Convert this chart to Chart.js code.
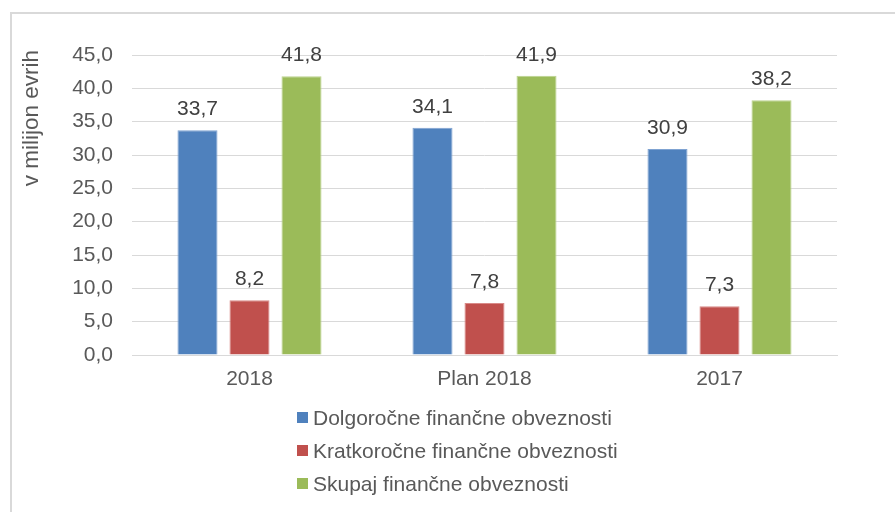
<!DOCTYPE html>
<html>
<head>
<meta charset="utf-8">
<script src="https://cdn.jsdelivr.net/npm/chart.js@4/dist/chart.umd.min.js"></script>
<style>
    html, body { margin: 0; padding: 0; background: #fff; overflow: hidden; }
    #wrap { position: relative; width: 895px; height: 512px; overflow: hidden; }
    #frame { position: absolute; left: 10px; top: 12px; width: 900px; height: 600px;
             border: 2px solid #d9d9d9; box-sizing: border-box; }
    #chart { position: absolute; left: 0; top: 0; }
    #legend { position: absolute; left: 297px; top: 401px;
              font-family: "Liberation Sans", Arial, sans-serif; font-size: 21px; color: #595959; }
    #legend .item { display: flex; align-items: center; height: 33px; }
    #legend .box { width: 11px; height: 11px; margin-right: 5px; }
</style>
</head>
<body>
<div id="wrap">
    <div id="frame"></div>
    <canvas id="chart" width="895" height="512"></canvas>
    <div id="legend"></div>
</div>
<script>
const FONT = '"Liberation Sans", Arial, sans-serif';

const categories = ['2018', 'Plan 2018', '2017'];
const dolgorocne = [33.7, 34.1, 30.9];
const kratkorocne = [8.2, 7.8, 7.3];
const skupaj = [41.8, 41.9, 38.2];
const seriesNames = ['Dolgoročne finančne obveznosti', 'Kratkoročne finančne obveznosti', 'Skupaj finančne obveznosti'];
const seriesColors = ['#4f81bd', '#c0504d', '#9bbb59'];
const edgeColors = ['#7fa3d2', '#d98a88', '#bcd38f'];
const yTitle = 'v milijon evrih';

function fmt(v) {
    return v.toFixed(1).replace('.', ',');
}

// value labels above the bars
const valueLabels = {
    id: 'valueLabels',
    afterDatasetsDraw(chart) {
        const ctx = chart.ctx;
        ctx.save();
        ctx.font = '21px ' + FONT;
        ctx.fillStyle = '#404040';
        ctx.textAlign = 'center';
        ctx.textBaseline = 'alphabetic';
        chart.data.datasets.forEach((ds, i) => {
            chart.getDatasetMeta(i).data.forEach((bar, j) => {
                ctx.fillText(fmt(ds.data[j]), bar.x, bar.y - 15);
            });
        });
        ctx.restore();
    }
};

// rotated axis title, ending near the top of the value axis
const axisTitle = {
    id: 'axisTitle',
    afterDraw(chart) {
        const ctx = chart.ctx;
        const y = chart.scales.y;
        ctx.save();
        ctx.font = '22.5px ' + FONT;
        ctx.fillStyle = '#595959';
        ctx.translate(y.left + 22, y.top - 5);
        ctx.rotate(-Math.PI / 2);
        ctx.textAlign = 'right';
        ctx.textBaseline = 'middle';
        ctx.fillText(yTitle, 0, 0);
        ctx.restore();
    }
};

// legend as a vertical list under the plot
const htmlLegend = {
    id: 'htmlLegend',
    afterUpdate(chart) {
        const box = document.getElementById('legend');
        box.innerHTML = '';
        chart.data.datasets.forEach(ds => {
            const item = document.createElement('div');
            item.className = 'item';
            const sw = document.createElement('span');
            sw.className = 'box';
            sw.style.background = ds.backgroundColor;
            const txt = document.createElement('span');
            txt.textContent = ds.label;
            item.appendChild(sw);
            item.appendChild(txt);
            box.appendChild(item);
        });
    }
};

const values = [dolgorocne, kratkorocne, skupaj];

new Chart(document.getElementById('chart'), {
    type: 'bar',
    data: {
        labels: categories,
        datasets: values.map((v, i) => ({
            label: seriesNames[i],
            data: v,
            backgroundColor: seriesColors[i],
            borderColor: edgeColors[i],
            borderWidth: 1,
            categoryPercentage: 0.664,
            barPercentage: 0.77
        }))
    },
    options: {
        responsive: false,
        animation: false,
        layout: { padding: { left: 10, top: 55, right: 58, bottom: 117 } },
        plugins: {
            legend: { display: false },
            tooltip: { enabled: false }
        },
        scales: {
            x: {
                afterFit: s => { s.height = 40; },
                grid: { display: false, drawTicks: false },
                border: { color: '#d9d9d9', width: 1 },
                ticks: { color: '#595959', padding: 12, font: { family: FONT, size: 21 } }
            },
            y: {
                min: 0,
                max: 45,
                afterFit: s => { s.width = 122; },
                grid: { color: '#d9d9d9', drawTicks: false },
                border: { display: false },
                ticks: {
                    stepSize: 5,
                    color: '#595959',
                    padding: 19,
                    font: { family: FONT, size: 21 },
                    callback: v => fmt(v)
                }
            }
        }
    },
    plugins: [valueLabels, axisTitle, htmlLegend]
});
</script>
</body>
</html>
